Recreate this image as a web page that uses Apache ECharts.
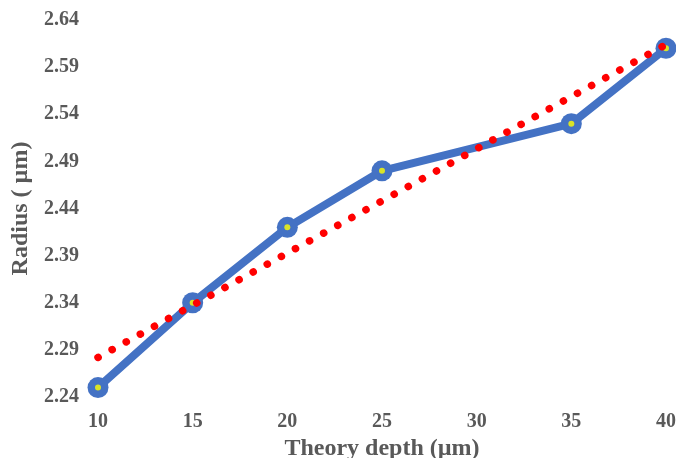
<!DOCTYPE html>
<html>
<head>
<meta charset="utf-8">
<script src="https://cdn.jsdelivr.net/npm/echarts@6/dist/echarts.min.js"></script>
<style>html,body{margin:0;padding:0;background:#fff}#c{width:676px;height:458px}</style>
</head>
<body>
<div id="c"></div>
<script>
var depths = [10, 15, 20, 25, 35, 40];
var radius = [2.25, 2.34, 2.42, 2.48, 2.53, 2.61];
var trendX = [10, 40];
var trendY = [2.282, 2.614];
var yTicks = [2.24, 2.29, 2.34, 2.39, 2.44, 2.49, 2.54, 2.59, 2.64];

var chart = echarts.init(document.getElementById('c'));
var font = '"Liberation Serif", "Times New Roman", serif';
var mainData = depths.map(function (d, i) { return [d, radius[i]]; });
var trendData = trendX.map(function (d, i) { return [d, trendY[i]]; });
chart.setOption({
  animation: false,
  grid: { left: 98, right: 10, top: 20, bottom: 61, containLabel: false, outerBoundsMode: 'none' },
  xAxis: {
    type: 'value', min: 10, max: 40, interval: 5,
    axisLine: { show: false }, axisTick: { show: false }, splitLine: { show: false },
    axisLabel: { color: '#595959', fontFamily: font, fontWeight: 'bold', fontSize: 20, margin: 15 },
    name: 'Theory depth (\u00b5m)', nameLocation: 'middle', nameGap: 34,
    nameTextStyle: { color: '#595959', fontFamily: font, fontWeight: 'bold', fontSize: 24 }
  },
  yAxis: {
    type: 'value', min: yTicks[0], max: yTicks[yTicks.length - 1], interval: 0.05,
    axisLine: { show: false }, axisTick: { show: false }, splitLine: { show: false },
    axisLabel: { color: '#595959', fontFamily: font, fontWeight: 'bold', fontSize: 20, margin: 19,
      formatter: function (v) { return v.toFixed(2); } },
    name: 'Radius ( \u00b5m)', nameLocation: 'middle', nameGap: 64,
    nameTextStyle: { color: '#595959', fontFamily: font, fontWeight: 'bold', fontSize: 24 }
  },
  series: [
    {
      type: 'line', data: mainData, z: 2,
      lineStyle: { color: '#4472C4', width: 8 },
      symbol: 'circle', symbolSize: 21,
      itemStyle: { color: '#4472C4' }
    },
    {
      type: 'scatter', data: mainData, z: 3,
      symbol: 'circle', symbolSize: 6,
      itemStyle: { color: '#FFFF00' }
    },
    {
      type: 'line', data: trendData, z: 4, symbol: 'none',
      lineStyle: { color: '#FF0000', width: 7.5, type: [0.1, 16], cap: 'round' }
    }
  ]
});
</script>
</body>
</html>
